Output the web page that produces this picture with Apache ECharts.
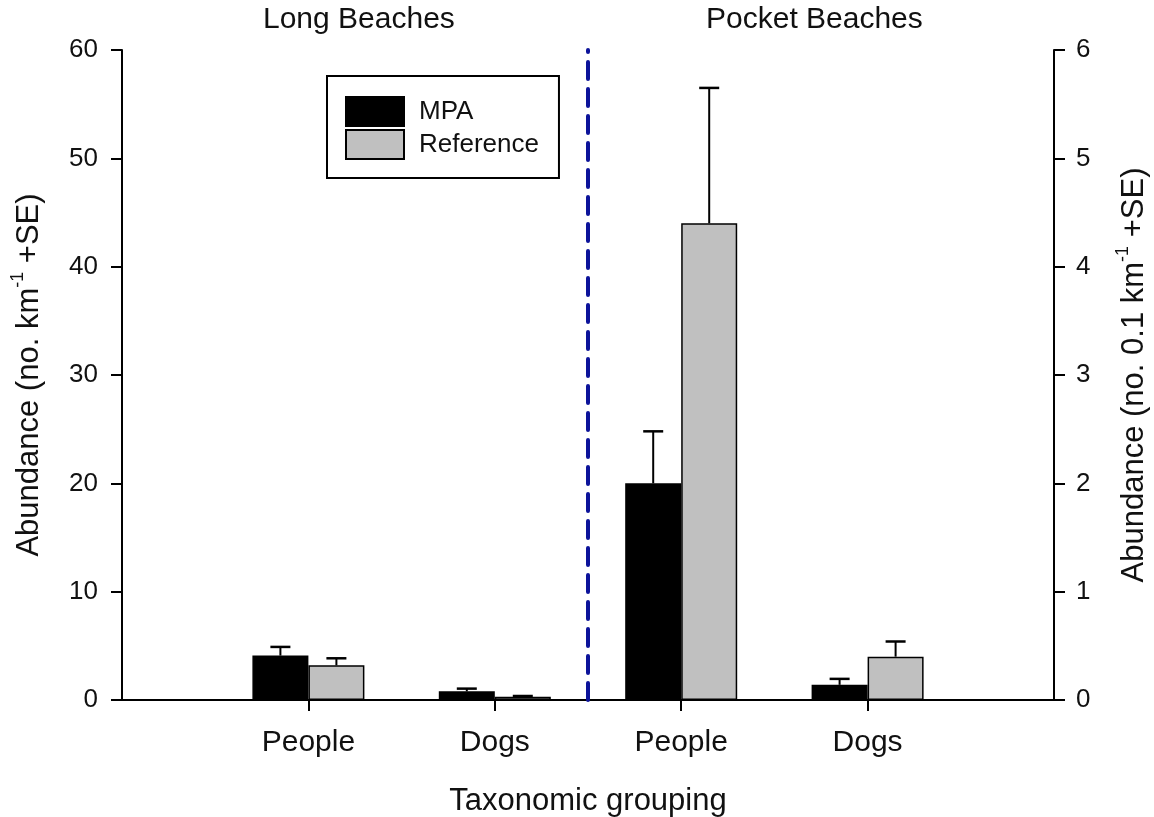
<!DOCTYPE html>
<html>
<head>
<meta charset="utf-8">
<script src="https://cdn.jsdelivr.net/npm/echarts@6/dist/echarts.min.js"></script>
<style>
  html, body { margin: 0; padding: 0; background: #fff; }
  #chart { width: 1154px; height: 817px; }
</style>
</head>
<body>
<div id="chart"></div>
<script>
// ---- Data ----
const categories = ['People', 'Dogs', 'People', 'Dogs'];      // Long: 0-1, Pocket: 2-3
const regionTitles = ['Long Beaches', 'Pocket Beaches'];
const mpaValues = [4.1, 0.8, 20.0, 1.4];
const mpaSE     = [0.8, 0.25, 4.8, 0.55];
const refValues = [3.2, 0.3, 44.0, 4.0];
const refSE     = [0.65, 0.07, 12.5, 1.4];
const leftTicks  = [0, 10, 20, 30, 40, 50, 60];
const rightTicks = [0, 1, 2, 3, 4, 5, 6];
const separatorPos = 2.5;   // between Long and Pocket groups on the slot scale

// ---- Styling ----
const FONT = '"Liberation Sans", Arial, Helvetica, sans-serif';
const BAR_W = 56;
const CAP_HALF = 10;
const axisCats = [''].concat(categories, ['']);
const slotMax = axisCats.length - 1;

function toBarData(vals) { return ['-'].concat(vals, ['-']); }
function toErrData(vals, se) { return vals.map((v, i) => [i + 1, v, se[i]]); }

function errRenderer(side) {
  return function (params, api) {
    const idx = api.value(0), v = api.value(1), se = api.value(2);
    const p0 = api.coord([idx, v]);
    const p1 = api.coord([idx, v + se]);
    const x = p0[0] + side * BAR_W / 2;
    return {
      type: 'group',
      children: [
        { type: 'line', shape: { x1: x, y1: p0[1], x2: x, y2: p1[1] }, style: { stroke: '#000', lineWidth: 2 } },
        { type: 'line', shape: { x1: x - CAP_HALF, y1: p1[1], x2: x + CAP_HALF, y2: p1[1] }, style: { stroke: '#000', lineWidth: 2.5 } }
      ]
    };
  };
}

const axisLineStyle = { color: '#000', width: 2 };
const nameRich = {
  a: { fontFamily: FONT, fontSize: 31, color: '#111', lineHeight: 36, verticalAlign: 'bottom' },
  s: { fontFamily: FONT, fontSize: 18, color: '#111', lineHeight: 36, verticalAlign: 'top', padding: [0, 0, 10, 0] }
};

const option = {
  animation: false,
  backgroundColor: '#fff',
  textStyle: { fontFamily: FONT, color: '#000' },
  title: [
    { text: regionTitles[0], left: 258, top: 0, textStyle: { fontFamily: FONT, fontSize: 30, fontWeight: 'normal', color: '#111' } },
    { text: regionTitles[1], left: 701, top: 0, textStyle: { fontFamily: FONT, fontSize: 30, fontWeight: 'normal', color: '#111' } }
  ],
  legend: {
    data: ['MPA', 'Reference'],
    orient: 'vertical',
    left: 327, top: 76,
    itemWidth: 58, itemHeight: 29, itemGap: 2,
    icon: 'rect',
    borderColor: '#000', borderWidth: 2,
    padding: [20, 20, 18, 18],
    textStyle: { fontFamily: FONT, fontSize: 26, color: '#111', padding: [0, 0, 0, 10] }
  },
  grid: { left: 122, right: 100, top: 50, bottom: 117, outerBoundsMode: 'none', containLabel: false },
  xAxis: [
    {
      type: 'category',
      data: axisCats,
      boundaryGap: false,
      axisLine: { lineStyle: axisLineStyle },
      axisTick: { show: true, length: 11, inside: false, lineStyle: axisLineStyle, interval: (i) => i > 0 && i < slotMax },
      axisLabel: { interval: 0, fontFamily: FONT, fontSize: 30, color: '#111', margin: 28 },
      name: 'Taxonomic grouping',
      nameLocation: 'middle',
      nameGap: 86,
      nameTextStyle: { fontFamily: FONT, fontSize: 31, color: '#111' }
    },
    { type: 'value', min: 0, max: slotMax, show: false }
  ],
  yAxis: [
    {
      type: 'value', min: leftTicks[0], max: leftTicks[leftTicks.length - 1], interval: leftTicks[1] - leftTicks[0],
      position: 'left',
      axisLine: { show: true, lineStyle: axisLineStyle },
      axisTick: { show: true, length: 11, inside: false, lineStyle: axisLineStyle },
      axisLabel: { fontFamily: FONT, fontSize: 26, color: '#111', margin: 24 },
      splitLine: { show: false },
      name: '{a|Abundance (no. km}{s|-1}{a| +SE)}',
      nameLocation: 'middle',
      nameRotate: 90,
      nameGap: 77,
      nameTextStyle: { rich: nameRich }
    },
    {
      type: 'value', min: rightTicks[0], max: rightTicks[rightTicks.length - 1], interval: rightTicks[1] - rightTicks[0],
      position: 'right',
      axisLine: { show: true, lineStyle: axisLineStyle },
      axisTick: { show: true, length: 11, inside: false, lineStyle: axisLineStyle },
      axisLabel: { fontFamily: FONT, fontSize: 26, color: '#111', margin: 22 },
      splitLine: { show: false },
      name: '{a|Abundance (no. 0.1 km}{s|-1}{a| +SE)}',
      nameLocation: 'middle',
      nameRotate: 90,
      nameGap: 60,
      nameTextStyle: { rich: nameRich }
    }
  ],
  series: [
    {
      name: 'MPA', type: 'bar', data: toBarData(mpaValues),
      barWidth: BAR_W, barGap: '0%',
      itemStyle: { color: '#000', borderColor: '#000', borderWidth: 1.5 }
    },
    {
      name: 'Reference', type: 'bar', data: toBarData(refValues),
      barWidth: BAR_W, barGap: '0%',
      itemStyle: { color: '#c0c0c0', borderColor: '#000', borderWidth: 1.5 }
    },
    {
      name: 'MPA SE', type: 'custom', data: toErrData(mpaValues, mpaSE),
      renderItem: errRenderer(-1), z: 5, silent: true
    },
    {
      name: 'Reference SE', type: 'custom', data: toErrData(refValues, refSE),
      renderItem: errRenderer(1), z: 5, silent: true
    },
    {
      name: 'separator', type: 'line', xAxisIndex: 1, yAxisIndex: 0,
      data: [[separatorPos, leftTicks[0]], [separatorPos, leftTicks[leftTicks.length - 1]]],
      symbol: 'none', silent: true,
      lineStyle: { color: '#0c139a', width: 4, type: [17, 10], cap: 'round' }
    }
  ]
};

const chart = echarts.init(document.getElementById('chart'), null, { renderer: 'canvas' });
chart.setOption(option);
</script>
</body>
</html>
